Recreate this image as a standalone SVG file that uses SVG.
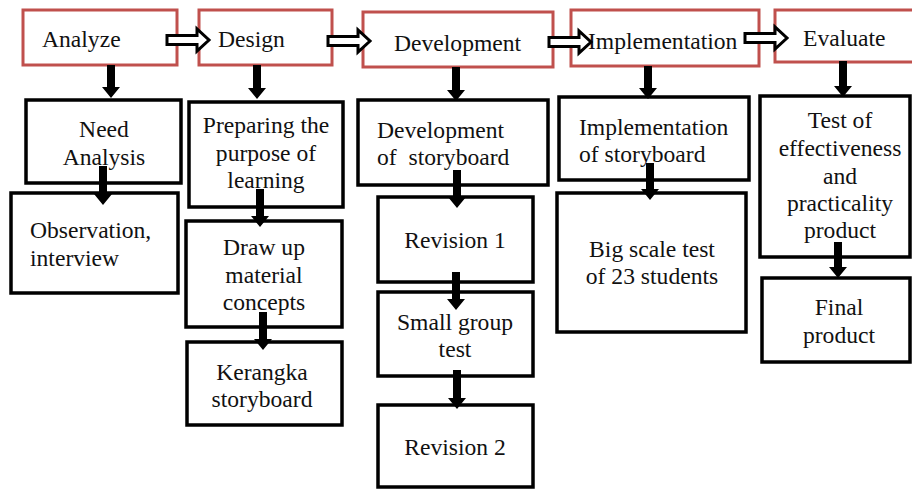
<svg xmlns="http://www.w3.org/2000/svg" xmlns:xlink="http://www.w3.org/1999/xlink" width="912" height="489" viewBox="0 0 912 489">
<style>
.top{fill:#fff;stroke:#c0504d;stroke-width:3}
.box{fill:#fff;stroke:#000;stroke-width:3.5}
.t{font-family:'Liberation Serif','Tinos','DejaVu Serif',serif;font-size:23.6px;fill:#111}
.c{text-anchor:middle}
.pre{white-space:pre}
.darr{fill:#000;stroke:none}
.harr{fill:#fff;stroke:#000;stroke-width:3}
</style>
<defs>
<path id="ha" d="M0,-4.5 H30 V-11 L42,0 L30,11 V4.5 H0 Z"/>
</defs>
<rect width="912" height="489" fill="#fff"/>
<g id="analyze"><rect class="top" x="23" y="10" width="154" height="55"/><text class="t" x="42" y="47">Analyze</text></g>
<g id="design"><rect class="top" x="199" y="10" width="133" height="55"/><text class="t" x="218" y="47">Design</text></g>
<g id="development"><rect class="top" x="363" y="12" width="190" height="55"/><text class="t" x="394" y="51">Development</text></g>
<g id="implementation"><rect class="top" x="571" y="10" width="188" height="56"/><text class="t" x="588" y="49">Implementation</text></g>
<g id="evaluate"><rect class="top" x="775" y="10" width="145" height="52"/><text class="t" x="803" y="46">Evaluate</text></g>

<g id="need"><rect class="box" x="26" y="100" width="155" height="83"/><text class="t c" x="104" y="137">Need</text><text class="t c" x="104" y="165">Analysis</text></g>
<g id="observation"><rect class="box" x="11" y="193" width="167" height="100"/><text class="t" x="30" y="238">Observation,</text><text class="t" x="30" y="266">interview</text></g>
<g id="preparing"><rect class="box" x="189" y="102" width="154" height="105"/><text class="t c" x="266" y="133">Preparing the</text><text class="t c" x="266" y="161">purpose of</text><text class="t c" x="266" y="188">learning</text></g>
<g id="drawup"><rect class="box" x="186" y="221" width="156" height="106"/><text class="t c" x="264" y="255">Draw up</text><text class="t c" x="264" y="283">material</text><text class="t c" x="264" y="310">concepts</text></g>
<g id="kerangka"><rect class="box" x="187" y="342" width="155" height="83"/><text class="t c" x="262" y="380">Kerangka</text><text class="t c" x="262" y="407">storyboard</text></g>

<g id="devstory"><rect class="box" x="358" y="100" width="190" height="85"/><text class="t" x="377" y="138">Development</text><text class="t pre" x="377" y="165">of  storyboard</text></g>
<g id="rev1"><rect class="box" x="378" y="197" width="155" height="85"/><text class="t c" x="455" y="248">Revision 1</text></g>
<g id="smallgroup"><rect class="box" x="378" y="292" width="155" height="84"/><text class="t c" x="455" y="330">Small group</text><text class="t c" x="455" y="357">test</text></g>
<g id="rev2"><rect class="box" x="378" y="405" width="155" height="82"/><text class="t c" x="455" y="455">Revision 2</text></g>

<g id="implstory"><rect class="box" x="559" y="97" width="190" height="83"/><text class="t" x="579" y="135">Implementation</text><text class="t" x="579" y="162">of storyboard</text></g>
<g id="bigscale"><rect class="box" x="557" y="193" width="189" height="139"/><text class="t c" x="652" y="257">Big scale test</text><text class="t c" x="652" y="284">of 23 students</text></g>

<g id="test"><rect class="box" x="760" y="96" width="150" height="161"/><text class="t c" x="840" y="128">Test of</text><text class="t c" x="840" y="156">effectiveness</text><text class="t c" x="840" y="184">and</text><text class="t c" x="840" y="211">practicality</text><text class="t c" x="840" y="238">product</text></g>
<g id="final"><rect class="box" x="762" y="278" width="148" height="84"/><text class="t c" x="839" y="315">Final</text><text class="t c" x="839" y="343">product</text></g>

<g id="connectors">
<use xlink:href="#ha" class="harr" transform="translate(167,40)"/>
<use xlink:href="#ha" class="harr" transform="translate(328,41)"/>
<use xlink:href="#ha" class="harr" transform="translate(549,42)"/>
<use xlink:href="#ha" class="harr" transform="translate(745,38)"/>
<path class="darr" d="M107,65 V87 H102 L111,98 L120,87 H115 V65 Z"/>
<path class="darr" d="M253,65 V88 H248 L257,99 L266,88 H261 V65 Z"/>
<path class="darr" d="M452,67 V90 H447 L456,101 L465,90 H460 V67 Z"/>
<path class="darr" d="M644,66 V88 H639 L648,99 L657,88 H652 V66 Z"/>
<path class="darr" d="M839,61 V86 H834 L843,97 L852,86 H847 V61 Z"/>
<path class="darr" d="M99,166 V194 H94 L103,205 L112,194 H107 V166 Z"/>
<path class="darr" d="M256,189 V216 H251 L260,227 L269,216 H264 V189 Z"/>
<path class="darr" d="M259,312 V339 H254 L263,350 L272,339 H267 V312 Z"/>
<path class="darr" d="M453,170 V197 H448 L457,208 L466,197 H461 V170 Z"/>
<path class="darr" d="M452,272 V299 H447 L456,310 L465,299 H460 V272 Z"/>
<path class="darr" d="M453,370 V398 H448 L457,409 L466,398 H461 V370 Z"/>
<path class="darr" d="M646,163 V189 H641 L650,200 L659,189 H654 V163 Z"/>
<path class="darr" d="M834,242 V267 H829 L838,278 L847,267 H842 V242 Z"/>
</g>
</svg>
